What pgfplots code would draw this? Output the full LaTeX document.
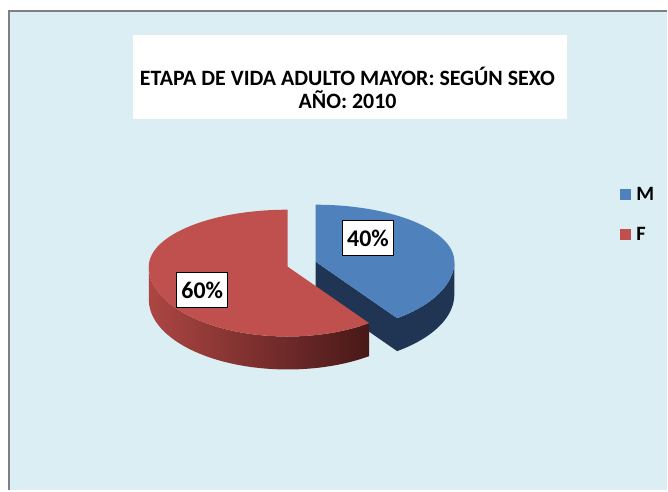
\documentclass[border=0pt]{standalone}
\usepackage{pgfplots}
\pgfplotsset{compat=1.18}
\usepackage{pgfplotstable}
\usepackage{fontspec}
\setmainfont{Carlito}
\definecolor{bgblue}{RGB}{219,238,244}
\definecolor{bordergray}{RGB}{128,128,128}
\definecolor{mblue}{RGB}{79,129,189}
\definecolor{mblueside}{RGB}{31,53,83}
\definecolor{fred}{RGB}{192,80,77}
\definecolor{fredsideL}{RGB}{172,70,67}
\definecolor{fredsideR}{RGB}{72,24,24}

\pgfplotstableread{
sexo valor
M 40
F 60
}\datos

\begin{document}
\begin{tikzpicture}
\pgfplotstablegetelem{0}{valor}\of\datos \let\valM\pgfplotsretval
\pgfplotstablegetelem{1}{valor}\of\datos \let\valF\pgfplotsretval
\pgfmathsetmacro{\angM}{90-360*\valM/(\valM+\valF)}
\pgfmathsetmacro{\angMp}{360+\angM}
\pgfmathsetmacro{\tipx}{3.475*cos(\angM)}
\pgfmathsetmacro{\tipy}{1.75*sin(\angM)}
\def\A{3.475cm}
\def\Bb{1.425cm}
\def\Bf{1.75cm}
\def\D{0.825cm}
\begin{axis}[
  width=16.7cm, height=12.275cm, scale only axis,
  xmin=0, xmax=668, ymin=0, ymax=491, y dir=reverse,
  hide axis, clip=false,
]
% background
\fill[white] (axis cs:0,0) rectangle (axis cs:668,491);
\fill[bgblue] (axis cs:9,11) rectangle (axis cs:668,491);
\draw[bordergray, line width=1.4pt] (axis cs:9,491) -- (axis cs:9,11) -- (axis cs:668,11);
% title
\fill[white] (axis cs:133,35) rectangle (axis cs:568,119);
\node[anchor=base, font=\bfseries\fontsize{15.6}{18}\selectfont] at (axis cs:348,86) {ETAPA DE VIDA ADULTO MAYOR: SEGÚN SEXO};
\node[anchor=base, font=\bfseries\fontsize{15.6}{18}\selectfont] at (axis cs:348,109) {AÑO: 2010};
% blue slice (M)
\fill[mblueside] (axis cs:316,262) ++(\tipx cm,\tipy cm)
   arc[start angle=\angM, end angle=0, x radius=\A, y radius=\Bf]
   -- ++(0,-\D)
   arc[start angle=0, end angle=\angM, x radius=\A, y radius=\Bf] -- cycle;
\fill[mblueside] (axis cs:316,262) -- ++(\tipx cm,\tipy cm) -- ++(0,-\D)
   -- ([yshift=-\D]axis cs:316,262) -- cycle;
\fill[mblue] (axis cs:316,262) -- ++(0,\Bb)
   arc[start angle=90, end angle=0, x radius=\A, y radius=\Bb]
   arc[start angle=0, end angle=\angM, x radius=\A, y radius=\Bf] -- cycle;
% red slice (F)
\shade[left color=fredsideL, right color=fredsideR] (axis cs:288,267) ++(-\A,0)
   arc[start angle=180, end angle=\angMp, x radius=\A, y radius=\Bf]
   -- ++(0,-\D)
   arc[start angle=\angMp, end angle=180, x radius=\A, y radius=\Bf] -- cycle;
\fill[fred] (axis cs:288,267) -- ++(0,\Bb)
   arc[start angle=90, end angle=180, x radius=\A, y radius=\Bb]
   arc[start angle=180, end angle=\angMp, x radius=\A, y radius=\Bf] -- cycle;
% data labels
\node[draw=black, fill=white, line width=0.8pt, inner sep=0pt,
      minimum width=1.275cm, minimum height=0.875cm,
      font=\bfseries\fontsize{17}{20}\selectfont] at (axis cs:368.5,238.5) {\valM\%};
\node[draw=black, fill=white, line width=0.8pt, inner sep=0pt,
      minimum width=1.275cm, minimum height=0.875cm,
      font=\bfseries\fontsize{17}{20}\selectfont] at (axis cs:202.5,290.5) {\valF\%};
% legend
\fill[mblue] (axis cs:621,189) rectangle (axis cs:632,200);
\fill[fred] (axis cs:621,229) rectangle (axis cs:632,240);
\node[anchor=west, inner sep=0pt, font=\bfseries\fontsize{14.5}{17}\selectfont] at (axis cs:637,194.5) {M};
\node[anchor=west, inner sep=0pt, font=\bfseries\fontsize{14.5}{17}\selectfont] at (axis cs:637,234.5) {F};
\end{axis}
\end{tikzpicture}
\end{document}
